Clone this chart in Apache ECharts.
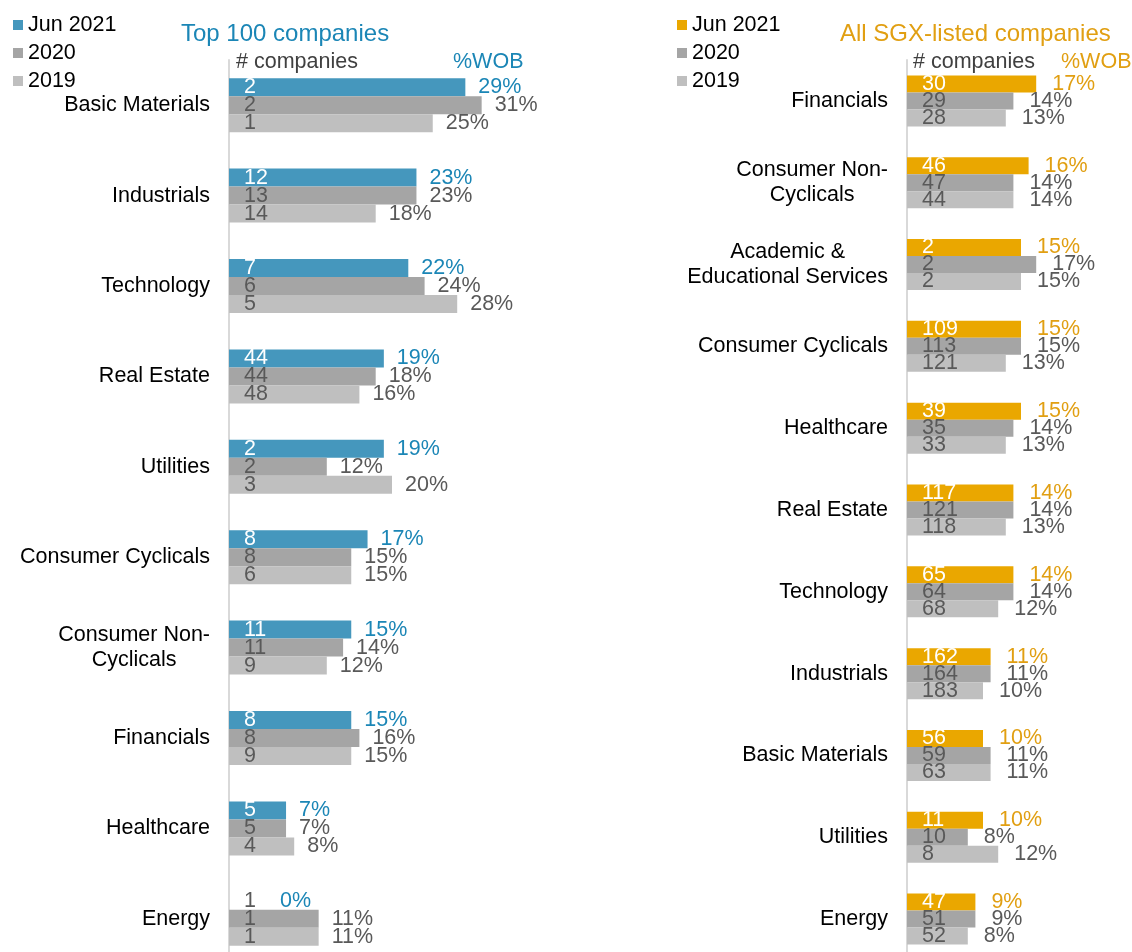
<!DOCTYPE html>
<html>
<head>
<meta charset="utf-8">
<title>WOB by sector</title>
<script src="https://cdn.jsdelivr.net/npm/echarts@6/dist/echarts.min.js"></script>
<style>
    html, body { margin: 0; padding: 0; background: #fff; }
    #main { width: 1132px; height: 952px; }
</style>
</head>
<body>
<div id="main"></div>
<script>
// Top 100 companies
var topCats = ['Basic Materials', 'Industrials', 'Technology', 'Real Estate', 'Utilities',
    'Consumer Cyclicals', 'Consumer Non-\nCyclicals', 'Financials', 'Healthcare', 'Energy'];
var topCount2021 = [2, 12, 7, 44, 2, 8, 11, 8, 5, 1];
var topCount2020 = [2, 13, 6, 44, 2, 8, 11, 8, 5, 1];
var topCount2019 = [1, 14, 5, 48, 3, 6, 9, 9, 4, 1];
var topWob2021 = [29, 23, 22, 19, 19, 17, 15, 15, 7, 0];
var topWob2020 = [31, 23, 24, 18, 12, 15, 14, 16, 7, 11];
var topWob2019 = [25, 18, 28, 16, 20, 15, 12, 15, 8, 11];

// All SGX-listed companies
var sgxCats = ['Financials', 'Consumer Non-\nCyclicals', 'Academic &\nEducational Services', 'Consumer Cyclicals',
    'Healthcare', 'Real Estate', 'Technology', 'Industrials', 'Basic Materials', 'Utilities', 'Energy'];
var sgxCount2021 = [30, 46, 2, 109, 39, 117, 65, 162, 56, 11, 47];
var sgxCount2020 = [29, 47, 2, 113, 35, 121, 64, 164, 59, 10, 51];
var sgxCount2019 = [28, 44, 2, 121, 33, 118, 68, 183, 63, 8, 52];
var sgxWob2021 = [17, 16, 15, 15, 15, 14, 14, 11, 10, 10, 9];
var sgxWob2020 = [14, 14, 17, 15, 14, 14, 14, 11, 11, 8, 9];
var sgxWob2019 = [13, 14, 15, 13, 13, 13, 12, 10, 11, 12, 8];

var years = ['Jun 2021', '2020', '2019'];

var FONT = 'Liberation Sans, Arial, sans-serif';
var FS = 21.5;
var GREY_TXT = '#595959';
var BLUE = '#4597bd', BLUE_TXT = '#1b86b6';
var GOLD = '#eaa700', GOLD_TXT = '#e19f12';
var C2020 = '#a5a5a5', C2019 = '#bfbfbf';

// one bar per year + a zero-width stacked helper carrying the %WOB label
function buildSeries(gridIdx, counts, wobs, colors, accentTxt, barW, dist) {
    var list = [];
    for (var k = 0; k < 3; k++) {
        var stackName = 'g' + gridIdx + 'y' + k;
        var mainData = [], tipData = [];
        for (var i = 0; i < wobs[k].length; i++) {
            var empty = wobs[k][i] === 0;
            mainData.push({
                value: wobs[k][i],
                label: { color: (k === 0 && !empty) ? '#fff' : GREY_TXT }
            });
            tipData.push({
                value: 0,
                label: { offset: [empty ? 38 : 0, 0] }
            });
        }
        (function (cnt, wob) {
            list.push({
                name: years[k],
                type: 'bar',
                xAxisIndex: gridIdx,
                yAxisIndex: gridIdx,
                stack: stackName,
                barWidth: barW,
                barGap: '0%',
                itemStyle: { color: colors[k] },
                label: {
                    show: true,
                    position: 'insideLeft',
                    offset: [10, 0],
                    fontSize: FS,
                    fontFamily: FONT,
                    formatter: function (p) { return cnt[p.dataIndex]; }
                },
                data: mainData
            });
            list.push({
                name: years[k] + ' %',
                type: 'bar',
                xAxisIndex: gridIdx,
                yAxisIndex: gridIdx,
                stack: stackName,
                barWidth: barW,
                barGap: '0%',
                itemStyle: { color: 'transparent' },
                label: {
                    show: true,
                    position: 'right',
                    distance: dist,
                    fontSize: FS,
                    fontFamily: FONT,
                    color: k === 0 ? accentTxt : GREY_TXT,
                    formatter: function (p) { return wob[p.dataIndex] + '%'; }
                },
                data: tipData
            });
        })(counts[k], wobs[k]);
    }
    return list;
}

function catAxis(gridIdx, cats) {
    return {
        type: 'category',
        gridIndex: gridIdx,
        inverse: true,
        data: cats,
        axisTick: { show: false },
        axisLine: { show: true, lineStyle: { color: '#d9d9d9', width: 2 } },
        axisLabel: {
            interval: 0,
            margin: 19,
            fontSize: FS,
            fontFamily: FONT,
            color: '#000',
            lineHeight: 25,
            formatter: function (v) {
                return v.split('\n').map(function (s) { return '{c|' + s + '}'; }).join('\n');
            },
            rich: { c: { align: 'center', fontSize: FS, lineHeight: 25, fontFamily: FONT, color: '#000' } }
        }
    };
}

var myChart = echarts.init(document.getElementById('main'), null, { renderer: 'canvas' });

var series = buildSeries(0, [topCount2021, topCount2020, topCount2019], [topWob2021, topWob2020, topWob2019],
    [BLUE, C2020, C2019], BLUE_TXT, 18, 13)
    .concat(buildSeries(1, [sgxCount2021, sgxCount2020, sgxCount2019], [sgxWob2021, sgxWob2020, sgxWob2019],
        [GOLD, C2020, C2019], GOLD_TXT, 17, 16));

function txt(text, left, top, color, size) {
    return { text: text, left: left, top: top, padding: 0,
        textStyle: { color: color, fontSize: size, fontWeight: 'normal', fontFamily: FONT } };
}

var legendText = { fontSize: FS, fontFamily: FONT, color: '#000' };

function legendFor(left, accent) {
    return {
        orient: 'vertical', left: left, top: 14, padding: 0,
        itemWidth: 10, itemHeight: 10, itemGap: 6,
        icon: 'rect', selectedMode: false, textStyle: legendText,
        data: [{ name: 'Jun 2021', itemStyle: { color: accent } },
            { name: '2020', itemStyle: { color: C2020 } },
            { name: '2019', itemStyle: { color: C2019 } }]
    };
}

var option = {
    animation: false,
    backgroundColor: '#fff',
    title: [
        txt('Top 100 companies', 181, 22, BLUE_TXT, 24),
        txt('All SGX-listed companies', 840, 22, GOLD_TXT, 24),
        txt('# companies', 236, 51, '#404040', FS),
        txt('%WOB', 453, 51, BLUE_TXT, FS),
        txt('# companies', 913, 51, '#404040', FS),
        txt('%WOB', 1061, 51, GOLD_TXT, FS)
    ],
    legend: [legendFor(13, BLUE), legendFor(677, GOLD)],
    grid: [
        { left: 229, top: 60, width: 326, height: 904, outerBoundsMode: 'none' },
        { left: 907, top: 60, width: 228, height: 900, outerBoundsMode: 'none' }
    ],
    xAxis: [
        { type: 'value', gridIndex: 0, min: 0, max: 40, show: false },
        { type: 'value', gridIndex: 1, min: 0, max: 30, show: false }
    ],
    yAxis: [catAxis(0, topCats), catAxis(1, sgxCats)],
    series: series
};

myChart.setOption(option);
</script>
</body>
</html>
